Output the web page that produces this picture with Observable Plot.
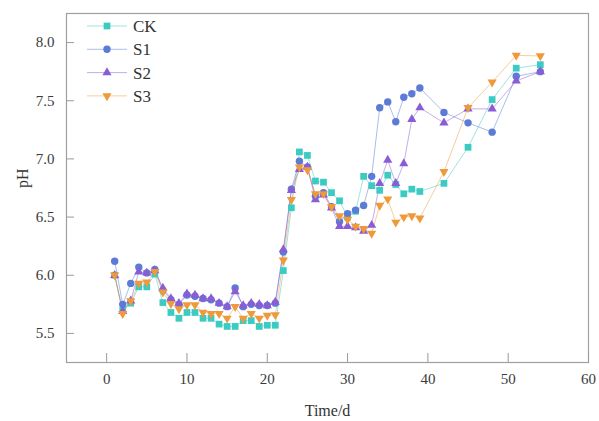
<!DOCTYPE html>
<html><head><meta charset="utf-8">
<script src="https://cdn.jsdelivr.net/npm/d3@7"></script>
<script src="https://cdn.jsdelivr.net/npm/@observablehq/plot@0.6"></script>
<style>
body{margin:0;background:#fff}
#wrap{position:relative;width:599px;height:421px;font-family:"Liberation Serif","Times New Roman",serif}
#legend{position:absolute;left:0;top:0;pointer-events:none}
</style>
</head><body><div id="wrap"></div>
<script>
const days = [1,2,3,4,5,6,7,8,9,10,11,12,13,14,15,16,17,18,19,20,21,22,23,24,25,26,27,28,29,30,31,32,33,34,35,36,37,38,39,42,45,48,51,54];
const ck = [6.00,5.70,5.76,5.90,5.90,6.01,5.765,5.68,5.63,5.68,5.68,5.63,5.63,5.58,5.56,5.56,5.61,5.61,5.56,5.57,5.57,6.04,6.58,7.06,7.03,6.81,6.80,6.71,6.64,6.50,6.55,6.85,6.77,6.73,6.86,6.78,6.70,6.74,6.72,6.79,7.10,7.51,7.78,7.81];
const s1 = [6.12,5.75,5.93,6.07,6.02,6.05,5.87,5.79,5.75,5.83,5.82,5.80,5.79,5.76,5.73,5.89,5.73,5.75,5.74,5.74,5.76,6.20,6.74,6.98,6.93,6.68,6.71,6.59,6.46,6.53,6.56,6.60,6.85,7.44,7.49,7.32,7.53,7.56,7.61,7.40,7.31,7.23,7.71,7.75];
const s2 = [6.00,5.69,5.78,6.03,6.02,6.04,5.89,5.80,5.76,5.84,5.83,5.80,5.80,5.76,5.73,5.86,5.74,5.76,5.75,5.74,5.77,6.22,6.73,6.91,6.93,6.65,6.69,6.58,6.42,6.42,6.41,6.38,6.43,6.79,6.99,6.79,6.96,7.34,7.44,7.31,7.43,7.43,7.67,7.75];
const s3 = [6.00,5.67,5.78,5.93,5.94,6.03,5.855,5.755,5.71,5.745,5.745,5.68,5.67,5.67,5.63,5.73,5.63,5.67,5.63,5.655,5.66,6.13,6.65,6.93,6.905,6.70,6.70,6.59,6.51,6.48,6.42,6.40,6.36,6.60,6.655,6.455,6.50,6.51,6.49,6.89,7.44,7.66,7.89,7.885];
const seriesNames = ["CK","S1","S2","S3"];
const colors = ["#3ccbc3","#5b7bd6","#8b5dd5","#f0993a"];
const xTicks = [0,10,20,30,40,50,60];
const yTicks = [5.5,6.0,6.5,7.0,7.5,8.0];
const serif = '"Liberation Serif","Times New Roman",serif';

const triDown = {draw(ctx, size){
  const y = -Math.sqrt(size / (Math.sqrt(3) * 3));
  ctx.moveTo(0, -y * 2);
  ctx.lineTo(-Math.sqrt(3) * y, y);
  ctx.lineTo(Math.sqrt(3) * y, y);
  ctx.closePath();
}};
const symbols = [d3.symbolSquare, d3.symbolCircle, d3.symbolTriangle, triDown];
const radii = [3.8, 3.7, 3.4, 3.4];

const allValues = [ck, s1, s2, s3];
const rows = [];
allValues.forEach((vals, si) => vals.forEach((v, i) => rows.push({day: days[i], pH: v, s: seriesNames[si]})));

const marks = [Plot.frame({stroke: "#a0a0a0", strokeWidth: 1.2})];
seriesNames.forEach((name, si) => {
  const data = rows.filter(r => r.s === name);
  marks.push(Plot.line(data, {x: "day", y: "pH", stroke: colors[si], strokeWidth: 1, strokeOpacity: 0.5}));
});
seriesNames.forEach((name, si) => {
  const data = rows.filter(r => r.s === name);
  marks.push(Plot.dot(data, {x: "day", y: "pH", fill: colors[si], stroke: "none", symbol: symbols[si], r: radii[si]}));
});
marks.push(Plot.axisX({ticks: xTicks, tickSize: -9, tickPadding: 20, tickFormat: d3.format("d"), label: null, fontSize: 15, fontFamily: serif, fill: "#3a3a3a", stroke: "#999"}));
marks.push(Plot.axisY({ticks: yTicks, tickSize: -8, tickPadding: 20, tickFormat: d3.format(".1f"), label: null, fontSize: 15, fontFamily: serif, fill: "#3a3a3a", stroke: "#999"}));
marks.push(Plot.text(["Time/d"], {frameAnchor: "bottom", dy: 48, lineAnchor: "middle", fontSize: 16, fontFamily: serif, fill: "#333"}));
marks.push(Plot.text(["pH"], {frameAnchor: "left", dx: -44, rotate: -90, fontSize: 16, fontFamily: serif, fill: "#333"}));

const chart = Plot.plot({
  width: 599, height: 421,
  marginLeft: 66, marginRight: 11, marginTop: 13, marginBottom: 59,
  x: {domain: [-5, 60]},
  y: {domain: [5.25, 8.25]},
  style: {fontFamily: serif, fontSize: "15px", color: "#333", background: "#fff"},
  marks
});
const wrap = document.getElementById("wrap");
wrap.appendChild(chart);

// legend overlay
const lg = d3.select(wrap).append("svg").attr("id", "legend").attr("width", 599).attr("height", 421);
seriesNames.forEach((name, si) => {
  const g = lg.append("g").attr("transform", `translate(0,${26 + si * 23.3})`);
  g.append("line").attr("x1", 87).attr("x2", 127).attr("y1", 0).attr("y2", 0)
    .attr("stroke", colors[si]).attr("stroke-opacity", 0.5).attr("stroke-width", 1);
  g.append("path").attr("transform", "translate(107,0)")
    .attr("d", d3.symbol(symbols[si], Math.PI * radii[si] * radii[si])()).attr("fill", colors[si]);
  g.append("text").attr("x", 133).attr("y", 0).attr("dy", "0.35em")
    .attr("font-size", 17).attr("fill", "#333")
    .attr("font-family", serif).text(name);
});
</script>
</body></html>
